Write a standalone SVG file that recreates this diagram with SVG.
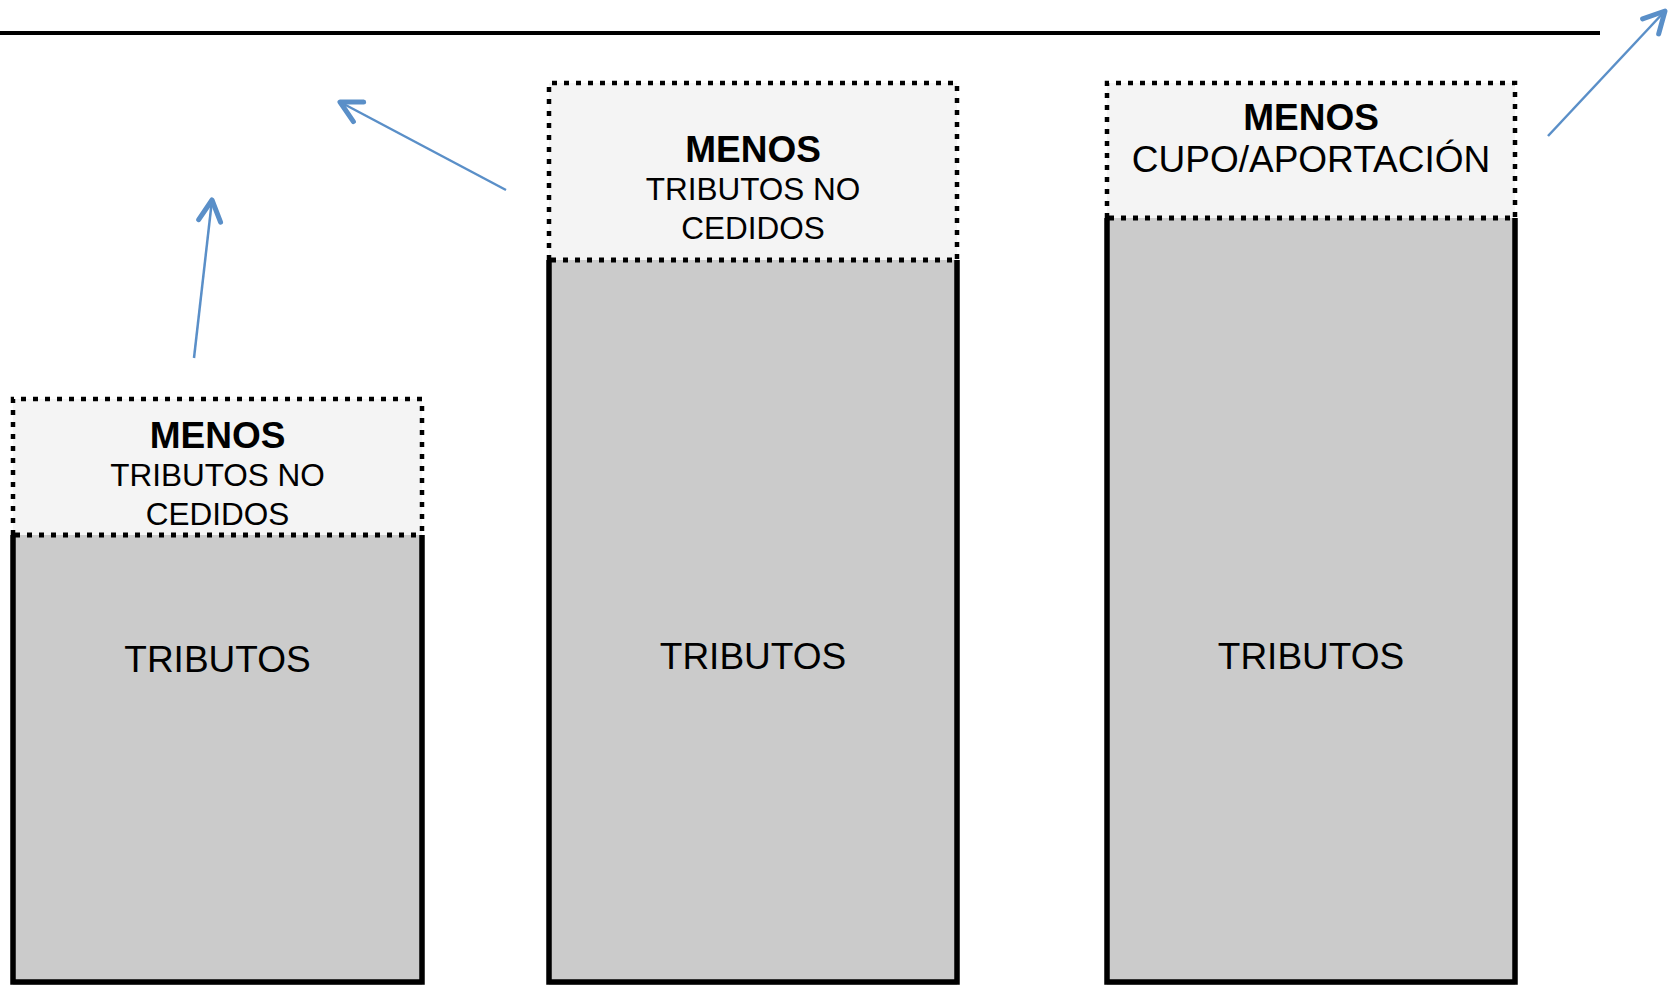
<svg xmlns="http://www.w3.org/2000/svg" width="1672" height="985" viewBox="0 0 1672 985">
<style>
.gray{fill:#cbcbcb;stroke:none}
.light{fill:#f4f4f4;stroke:none}
.solid{fill:none;stroke:#000;stroke-width:5.5}
.dash{fill:none;stroke:#000;stroke-width:4.5;stroke-dasharray:5 7}
.div{fill:none;stroke:#000;stroke-width:5;stroke-dasharray:5 7}
.t{font-family:"Liberation Sans",Arial,sans-serif;text-anchor:middle;fill:#000}
.b{font-weight:bold;font-size:37px}
.s{font-size:31.5px}
.m{font-size:37px}
.conn{fill:none;stroke:#5a8fc8;stroke-width:2.5}
</style>
<defs>
<marker id="ah" markerUnits="userSpaceOnUse" orient="auto" markerWidth="40" markerHeight="40" viewBox="-30 -20 40 40" refX="0" refY="0" overflow="visible">
<path d="M-21,-11 L0,0 L-21,11" fill="none" stroke="#5a8fc8" stroke-width="5" stroke-linecap="round" stroke-linejoin="round"/>
</marker>
</defs>
<rect width="1672" height="985" fill="#fff"/>
<line x1="0" y1="33" x2="1600" y2="33" stroke="#000" stroke-width="4"/>
<g id="box1">
<rect class="gray" x="13" y="535" width="409" height="450"/>
<rect class="light" x="13" y="399" width="409" height="136"/>
<path class="solid" d="M13,535 V982 H422 V535"/>
<path class="dash" d="M13,535 V399 H422 V535"/>
<path class="div" d="M15,535 H422"/>
<text class="t b" x="217.5" y="448">MENOS</text>
<text class="t s" x="217.5" y="486">TRIBUTOS NO</text>
<text class="t s" x="217.5" y="525">CEDIDOS</text>
<text class="t m" x="217.5" y="672">TRIBUTOS</text>
</g>
<g id="box2">
<rect class="gray" x="549" y="260" width="408" height="725"/>
<rect class="light" x="549" y="83" width="408" height="177"/>
<path class="solid" d="M549,260 V982 H957 V260"/>
<path class="dash" d="M549,260 V83 H957 V260"/>
<path class="div" d="M551,260 H957"/>
<text class="t b" x="753" y="162">MENOS</text>
<text class="t s" x="753" y="200">TRIBUTOS NO</text>
<text class="t s" x="753" y="239">CEDIDOS</text>
<text class="t m" x="753" y="669">TRIBUTOS</text>
</g>
<g id="box3">
<rect class="gray" x="1107" y="218" width="408" height="767"/>
<rect class="light" x="1107" y="83" width="408" height="135"/>
<path class="solid" d="M1107,218 V982 H1515 V218"/>
<path class="dash" d="M1107,218 V83 H1515 V218"/>
<path class="div" d="M1109,218 H1515"/>
<text class="t b" x="1311" y="130">MENOS</text>
<text class="t m" x="1311" y="172">CUPO/APORTACIÓN</text>
<text class="t m" x="1311" y="669">TRIBUTOS</text>
</g>
<g id="connectors">
<line class="conn" x1="194" y1="358" x2="212" y2="200" marker-end="url(#ah)"/>
<line class="conn" x1="506" y1="190" x2="340" y2="102" marker-end="url(#ah)"/>
<line class="conn" x1="1548" y1="136" x2="1665" y2="11" marker-end="url(#ah)"/>
</g>
</svg>
